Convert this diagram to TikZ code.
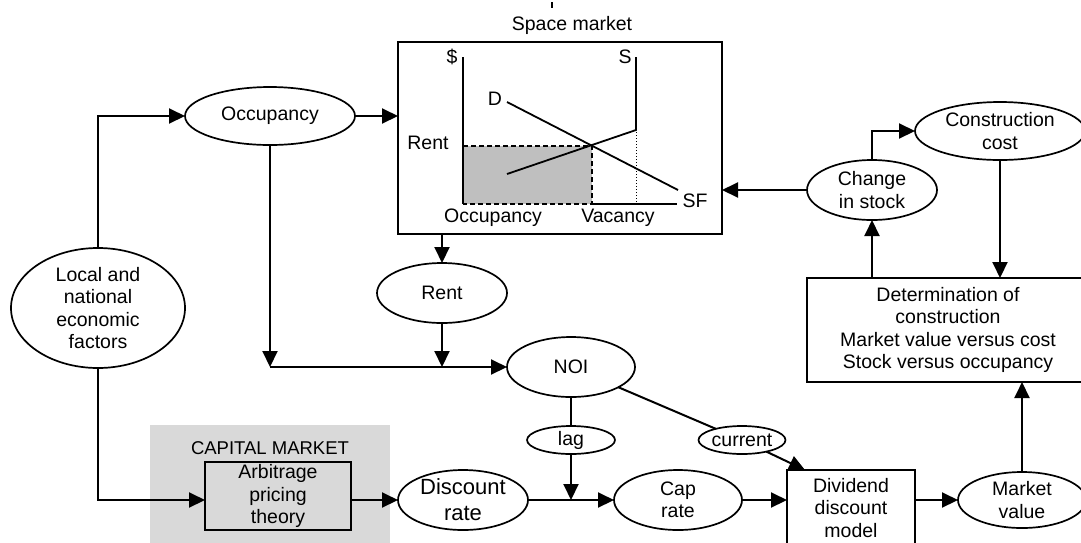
\documentclass[tikz,border=0pt]{standalone}
\usepackage{fontspec}
\setmainfont{Liberation Sans}
\usetikzlibrary{arrows.meta,shapes.geometric,calc}
\begin{document}
\begin{tikzpicture}[x=1pt,y=-1pt,
  every node/.style={font=\fontsize{19.5}{22.3}\selectfont, inner sep=0pt, outer sep=0pt},
  ell/.style={draw, ellipse, line width=1.7pt},
  rbox/.style={draw, rectangle, line width=1.7pt},
  txt/.style={align=center},
  conn/.style={line width=2pt},
  arr/.style={conn, -{Triangle[length=16pt,width=15pt]}},
  chartline/.style={line width=1.8pt},
]
\useasboundingbox (0,0) rectangle (1081,542);

% capital market background
\fill[black!15] (150,425) rectangle (390,548);
\node[txt, font=\fontsize{18.5}{22}\selectfont] (capT) at (270,448) {CAPITAL MARKET};

% small mark at top
\draw[line width=2pt] (552,2) -- (552,8);

% Space market box and chart
\node[txt] (spmT) at (572,25) {Space market};
\node[rbox, minimum width=324, minimum height=192] (spm) at (560,138) {};
\fill[black!25] (463,146) rectangle (592,204);
\draw[line width=1.4pt, dash pattern=on 5pt off 3pt] (463,146) -- (592,146) -- (592,204) -- (463,204);
\draw[line width=1pt, dotted] (636,132) -- (636,204);
\draw[chartline] (463,57) -- (463,204);
\draw[chartline] (592,204) -- (677,204);
\draw[chartline] (507,102) -- (678,190);
\draw[chartline] (636,57) -- (636,130) -- (507,174);
\node (lblDollar) at (452,57) {\$};
\node (lblS) at (625,57) {S};
\node (lblD) at (495,99) {D};
\node (lblRent) at (428,143) {Rent};
\node (lblSF) at (695,201) {SF};
\node (lblOcc) at (493,218) {Occupancy};
\node (lblVac) at (618,218) {Vacancy};

% ellipses
\node[ell, minimum width=170, minimum height=58] (occ) at (270,116) {};
\node[txt] (occT) at (occ) {Occupancy};
\node[ell, minimum width=174, minimum height=120] (loc) at (98,308) {};
\node[txt] (locT) at (loc) {Local and\\national\\economic\\factors};
\node[ell, minimum width=130, minimum height=60] (rent) at (442,293) {};
\node[txt] (rentT) at (rent) {Rent};
\node[ell, minimum width=128, minimum height=60] (noi) at (571,367) {};
\node[txt] (noiT) at (noi) {NOI};
\node[ell, minimum width=88, minimum height=28] (lag) at (571,440) {};
\node[txt] (lagT) at (lag) {lag};
\node[ell, minimum width=87, minimum height=28] (cur) at (742,440) {};
\node[txt] (curT) at (cur) {current};
\node[ell, minimum width=130, minimum height=60] (disc) at (463,500) {};
\node[txt, font=\fontsize{22}{26}\selectfont] (discT) at (disc) {Discount\\rate};
\node[ell, minimum width=128, minimum height=60] (cap) at (678,500) {};
\node[txt] (capRT) at (cap) {Cap\\rate};
\node[ell, minimum width=128, minimum height=56] (mv) at (1022,500) {};
\node[txt] (mvT) at (mv) {Market\\value};
\node[ell, minimum width=130, minimum height=60] (chg) at (872,190) {};
\node[txt] (chgT) at (chg) {Change\\in stock};
\node[ell, minimum width=170, minimum height=58] (cc) at (1000,131) {};
\node[txt] (ccT) at (cc) {Construction\\cost};

% boxes
\node[rbox, txt, minimum width=146, minimum height=68] (apt) at (278,496) {Arbitrage\\pricing\\theory};
\node[rbox, txt, minimum width=128, minimum height=76] (ddm) at (851,508) {Dividend\\discount\\model};
\node[rbox, txt, minimum width=282, minimum height=104] (det) at (948,330) {Determination of\\construction\\Market value versus cost\\Stock versus occupancy};

% junction coordinates
\coordinate (j1) at (270,367);
\coordinate (j2) at (442,367);
\coordinate (j3) at (571,500);
\coordinate (ddmIn) at ($(ddm.north west)+(18,0)$);

% connectors
\draw[arr] (loc.north) |- (occ.west);
\draw[arr] (occ.east) -- (occ.east -| spm.west);
\draw[arr] (occ.south) -- (j1);
\draw[arr] (j1) -- (noi.west);
\draw[arr] (rent.north |- spm.south) -- (rent.north);
\draw[arr] (rent.south) -- (j2);
\draw[conn] (noi.south) -- (lag.north);
\draw[arr] (lag.south) -- (j3);
\draw[conn] (noi) -- (cur);
\draw[arr] (cur) -- (ddmIn);
\draw[arr] (loc.south) |- (apt.west |- disc.west);
\draw[arr] (apt.east |- disc.west) -- (disc.west);
\draw[arr] (disc.east) -- (cap.west);
\draw[arr] (cap.east) -- (cap.east -| ddm.west);
\draw[arr] (ddm.east |- mv.west) -- (mv.west);
\draw[arr] (mv.north) -- (mv.north |- det.south);
\draw[arr] (chg.south |- det.north) -- (chg.south);
\draw[arr] (chg.north) |- (cc.west);
\draw[arr] (cc.south) -- (cc.south |- det.north);
\draw[arr] (chg.west) -- (chg.west -| spm.east);
\end{tikzpicture}
\end{document}
